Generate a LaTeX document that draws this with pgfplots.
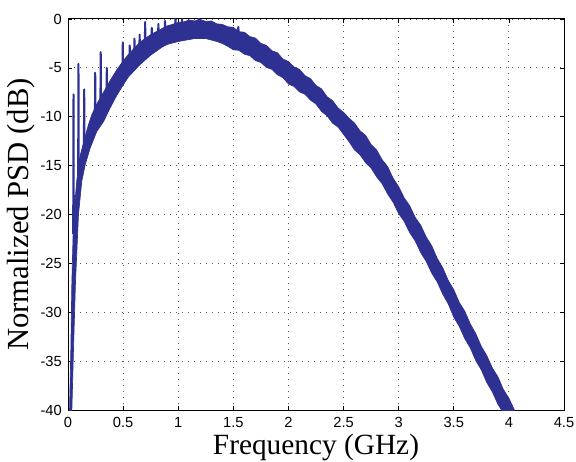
\documentclass[border=0pt]{standalone}
\usepackage{pgfplots}
\pgfplotsset{compat=1.18}
\usepackage{fontspec}
\setmainfont{Liberation Serif}
\setsansfont{Liberation Sans}
\definecolor{psd}{RGB}{46,49,146}
\begin{document}
\begin{tikzpicture}
\begin{axis}[
  name=ax,
  scale only axis,
  width=372pt, height=293.25pt,
  xmin=0, xmax=4.5, ymin=-40, ymax=0,
  xtick={0,0.5,...,4.5},
  ytick={-40,-35,...,0},
  xticklabels={0,0.5,1,1.5,2,2.5,3,3.5,4,4.5},
  yticklabels={-40,-35,-30,-25,-20,-15,-10,-5,0},
  tick align=inside,
  major tick length=3pt,
  tick style={black, line width=0.5pt},
  axis line style={black, line width=0.75pt},
  grid=major,
  major grid style={black!65, line width=0.6pt, dash pattern=on 0.6pt off 3.9pt},
  tick label style={font=\sffamily\fontsize{11}{13}\selectfont, inner sep=0pt},
  xticklabel style={yshift=-5.5pt},
  yticklabel style={xshift=-4.5pt},
  every axis x label/.style={at={(axis description cs:0.5,0)}, anchor=north, yshift=-18pt, inner sep=0pt, font=\fontsize{22}{26}\selectfont},
  every axis y label/.style={at={(axis description cs:-0.0665,0.5)}, rotate=90, anchor=south, inner sep=0pt, font=\fontsize{23}{27}\selectfont},
  xlabel={Frequency (GHz)},
  ylabel={Normalized PSD (dB)},
  unbounded coords=jump,
]
% noisy PSD band: upper envelope then lower envelope
\addplot[draw=psd, fill=psd, line width=0.5pt, line join=round] coordinates {
(0.012,-41) (0.014,-40) (0.026,-33.7) (0.035,-27) (0.05,-20.5) (0.08,-16.5) (0.11,-14.0) (0.156,-12.0) (0.186,-10.8) (0.216,-9.8) (0.261,-8.7) (0.322,-7.5) (0.382,-6.3) (0.443,-5.2)
(0.50,-4.3) (0.55,-3.6) (0.60,-3.0) (0.65,-2.4) (0.70,-2.0) (0.75,-1.6) (0.80,-1.3) (0.85,-1.0) (0.90,-0.7) (0.95,-0.55) (1.00,-0.35) (1.05,-0.3) (1.10,-0.1) (1.15,-0.2) (1.20,-0.05) (1.25,-0.25) (1.30,-0.2) (1.35,-0.5) (1.40,-0.55) (1.45,-0.8)
(1.50,-0.85) (1.55,-1.3) (1.60,-1.35) (1.65,-1.8) (1.70,-1.95) (1.75,-2.5) (1.80,-2.7) (1.85,-3.25) (1.90,-3.45) (1.95,-4.1) (2.00,-4.35) (2.05,-4.9) (2.10,-5.15) (2.15,-5.8) (2.20,-6.1) (2.25,-6.8) (2.30,-7.15) (2.35,-7.95) (2.40,-8.35) (2.45,-9.1) (2.50,-9.55)
(2.55,-10.15) (2.60,-10.65) (2.65,-11.45) (2.70,-11.9) (2.75,-12.85) (2.80,-13.4) (2.85,-14.4) (2.90,-15.1) (2.95,-16.3) (3.00,-17.15) (3.05,-18.3) (3.10,-19.1) (3.15,-20.3) (3.20,-21.1) (3.25,-22.3) (3.30,-23.2) (3.35,-24.5) (3.40,-25.45) (3.45,-26.75) (3.50,-27.7)
(3.55,-29.0) (3.60,-29.9) (3.65,-31.2) (3.70,-32.2) (3.75,-33.5) (3.80,-34.45) (3.85,-35.7) (3.90,-36.6) (3.95,-37.9) (4.00,-38.8) (4.05,-40.0) (4.10,-41.1)
(4.00,-41.5) (3.95,-40.3) (3.90,-39.4) (3.85,-38.15) (3.80,-37.2) (3.75,-35.9) (3.70,-34.95) (3.65,-33.65) (3.60,-32.7) (3.55,-31.45) (3.50,-30.5) (3.45,-29.15) (3.40,-28.15) (3.35,-26.9) (3.30,-26.0) (3.25,-24.8) (3.20,-23.9) (3.15,-22.7) (3.10,-21.85) (3.05,-20.7) (3.00,-19.9)
(2.95,-18.75) (2.90,-17.9) (2.85,-16.85) (2.80,-16.15) (2.75,-15.25) (2.70,-14.7) (2.65,-13.9) (2.60,-13.4) (2.55,-12.55) (2.50,-11.8) (2.45,-11.05) (2.40,-10.65) (2.35,-9.9) (2.30,-9.45) (2.25,-8.7) (2.20,-8.3) (2.15,-7.7) (2.10,-7.45) (2.05,-6.9) (2.00,-6.65)
(1.95,-6.0) (1.90,-5.7) (1.85,-5.15) (1.80,-4.95) (1.75,-4.45) (1.70,-4.25) (1.65,-3.75) (1.60,-3.6) (1.55,-3.2) (1.50,-3.15) (1.45,-2.8) (1.40,-2.5) (1.35,-2.3) (1.30,-2.15) (1.25,-2.0) (1.20,-2.0) (1.15,-2.0) (1.10,-2.1) (1.05,-2.2) (1.00,-2.3)
(0.95,-2.45) (0.90,-2.6) (0.85,-2.9) (0.80,-3.3) (0.75,-3.7) (0.70,-4.2) (0.65,-4.7) (0.60,-5.3) (0.55,-5.9) (0.503,-6.7) (0.443,-7.8) (0.382,-9.1) (0.322,-10.5) (0.261,-11.5) (0.201,-13.2) (0.156,-14.9) (0.125,-16.6) (0.095,-20.0) (0.068,-26.9) (0.05,-33.7) (0.035,-40) (0.037,-41)
} -- cycle;
% discrete spurious tones and noise peaks
\addplot[psd, line width=1.5pt, line join=round] coordinates {
(0.047,-22) (0.050,-7.7) (0.053,-22) (0.06,nan)
(0.092,-16) (0.095,-4.6) (0.098,-16) (0.1,nan)
(0.144,-13) (0.147,-7.2) (0.150,-13) (0.16,nan)
(0.244,-10) (0.247,-5.5) (0.250,-10) (0.26,nan)
(0.294,-8.5) (0.297,-3.4) (0.300,-8.5) (0.31,nan)
(0.349,-7.5) (0.352,-5.0) (0.355,-7.5) (0.36,nan)
(0.494,-5) (0.497,-2.4) (0.500,-5) (0.51,nan)
(0.557,-4.5) (0.560,-2.7) (0.563,-4.5) (0.57,nan)
(0.600,-3.5) (0.603,-2.0) (0.606,-3.5) (0.61,nan)
(0.647,-3.0) (0.650,-1.6) (0.653,-3.0) (0.66,nan)
(0.697,-2.5) (0.700,-0.3) (0.703,-2.5) (0.71,nan)
(0.757,-2.0) (0.760,-0.9) (0.763,-2.0) (0.77,nan)
(0.817,-1.6) (0.820,-0.5) (0.823,-1.6) (0.83,nan)
(0.877,-1.2) (0.880,-0.2) (0.883,-1.2) (0.89,nan)
(0.970,-1) (0.975,0) (0.980,-1) (0.99,nan)
(1.030,-1) (1.035,0) (1.040,-1) (1.05,nan)
(1.180,-1) (1.185,0.2) (1.190,-1) (1.2,nan)
(1.540,-1.5) (1.545,-0.8) (1.550,-1.5)
};
\end{axis}
\pgfresetboundingbox
\path ([xshift=-51pt,yshift=-38.25pt]ax.south west) rectangle ([xshift=9pt,yshift=14.25pt]ax.north east);
\end{tikzpicture}
\end{document}
